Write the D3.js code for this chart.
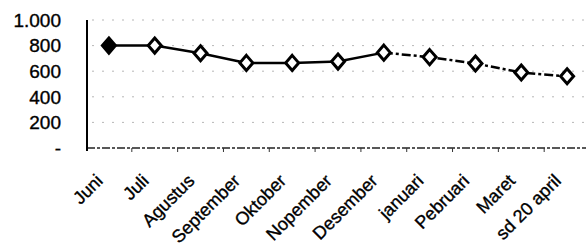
<!DOCTYPE html>
<html><head><meta charset="utf-8">
<script src="https://cdn.jsdelivr.net/npm/d3@7"></script>
<style>
html,body{margin:0;padding:0;background:#fff;}
svg{display:block;}
text{font-family:"Liberation Sans",Arial,sans-serif;fill:#000;stroke:#000;stroke-width:0.35px;}
</style></head>
<body>
<svg id="c" width="586" height="251"></svg>
<script>
const months = ["Juni","Juli","Agustus","September","Oktober","Nopember","Desember","januari","Pebruari","Maret","sd 20 april"];
const values = [800,800,740,665,665,675,745,710,660,590,560];
const yTicks = [0,200,400,600,800,1000];
const yTickLabels = ["-","200","400","600","800","1.000"];

const svg = d3.select("#c");
const x = d3.scaleBand().domain(months).range([86, 590]).paddingInner(0).paddingOuter(0);
const y = d3.scaleLinear().domain([0,1000]).range([148, 20]);

// gridlines
svg.append("g").selectAll("line").data(yTicks.filter(d=>d>0)).join("line")
  .attr("x1", 92).attr("x2", 586)
  .attr("y1", d=>y(d)).attr("y2", d=>y(d))
  .attr("stroke","#888").attr("stroke-width",1)
  .attr("stroke-dasharray","2,8").attr("opacity",0.6);

// y labels
svg.append("g").selectAll("text").data(yTicks).join("text")
  .attr("x", 61).attr("y", d=>y(d))
  .attr("dy","0.36em")
  .attr("text-anchor","end")
  .attr("font-size", 19)
  .text((d,i)=>yTickLabels[i]);

// x axis line
svg.append("line").attr("x1",87).attr("x2",586).attr("y1",y(0)).attr("y2",y(0))
  .attr("stroke","#222").attr("stroke-width",1.5).attr("stroke-dasharray","8,2,3,2");
// ticks between categories
svg.append("g").selectAll("line").data(months.slice(1)).join("line")
  .attr("x1",d=>x(d)).attr("x2",d=>x(d))
  .attr("y1",y(0)).attr("y2",y(0)+4)
  .attr("stroke","#333").attr("stroke-width",1);

// y axis line
svg.append("line").attr("x1",87).attr("x2",87).attr("y1",y(1000)).attr("y2",y(0)+3)
  .attr("stroke","#000").attr("stroke-width",2);

// x labels
svg.append("g").selectAll("text").data(months).join("text")
  .attr("transform", d=>`translate(${x(d)+x.bandwidth()/2-5},182) rotate(-45)`)
  .attr("text-anchor","end")
  .attr("font-size",18)
  .text(d=>d);

// line
const pts = months.map((m,i)=>[x(m)+x.bandwidth()/2, y(values[i])]);
const solid = pts.slice(0,7), dashed = pts.slice(6);
const lg = d3.line();
svg.append("path").attr("d", lg(solid)).attr("fill","none").attr("stroke","#000").attr("stroke-width",2.5);
svg.append("path").attr("d", lg(dashed)).attr("fill","none").attr("stroke","#000").attr("stroke-width",2.5).attr("stroke-dasharray","9,3,3,3");

// markers
const diamond = "M0,-7.5L6.5,0L0,7.5L-6.5,0Z";
svg.append("g").selectAll("path").data(months).join("path")
  .attr("transform",(d,i)=>`translate(${x(d)+x.bandwidth()/2},${y(values[i])})`)
  .attr("d", diamond)
  .attr("fill",(d,i)=>i===0?"#000":"#fff")
  .attr("stroke","#000").attr("stroke-width",3);
</script>
</body></html>
